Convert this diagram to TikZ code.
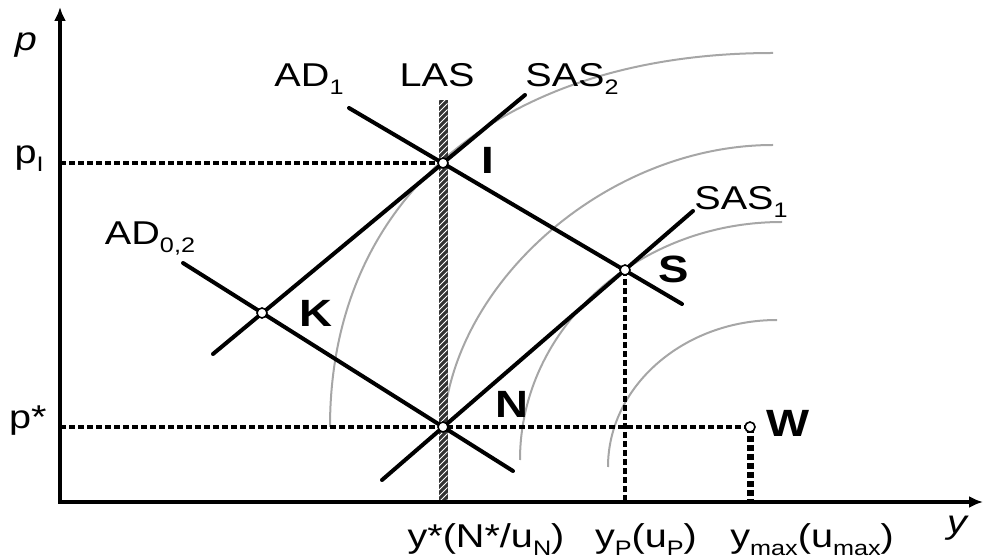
\documentclass[tikz,border=0pt]{standalone}
\usepackage{fontspec}
\setmainfont{Liberation Sans}[FakeStretch=1.2]
\usetikzlibrary{arrows.meta, calc, patterns}
\newcommand{\lowidx}[1]{\raisebox{-4pt}{\fontsize{10.5}{12}\selectfont #1}}

\begin{document}
\begin{tikzpicture}[x=0.5pt, y=0.5pt,
	curve/.style={line width=2pt, line cap=round},
	axis/.style={line width=2.2pt, {Latex[length=7pt,width=6pt]}-{Latex[length=7pt,width=6pt]}},
	guide/.style={line width=2.2pt, dash pattern=on 3pt off 1.5pt},
	iso/.style={line width=1pt, black!35},
	lbl/.style={inner sep=0pt, font=\fontsize{16.5}{19}\selectfont, anchor=base},
	pt/.style={inner sep=0pt, font=\fontsize{19}{22}\selectfont\bfseries, anchor=base}]
	\useasboundingbox (0,0) rectangle (985,557);

	% Achsen und Punkte
	\coordinate (O) at (60,55);
	\coordinate (ptop) at (60,550);
	\coordinate (yend) at (983,55);
	\coordinate (I) at (443,394);
	\coordinate (N) at (443,130);
	\coordinate (K) at (262,244);
	\coordinate (S) at (625,287);
	\coordinate (W) at (750,130);
	\coordinate (lasT) at (443,457);
	\coordinate (lasB) at (443,55);

	% Enden der Kurven
	\coordinate (ad1a) at (349,449);  \coordinate (ad1b) at (682,253);
	\coordinate (ad0a) at (183,294);  \coordinate (ad0b) at (513,86);
	\coordinate (sas2a) at (213,203); \coordinate (sas2b) at (525,462);
	\coordinate (sas1a) at (382,77);  \coordinate (sas1b) at (693,346);

	% Isolinien (grau)
	\draw[iso] (330,130) .. controls (330,360) and (503,504) .. (773,504);
	\draw[iso] (443,117) .. controls (443,267) and (603,412) .. (773,412);
	\draw[iso] (520,97) .. controls (520,228) and (637,335) .. (782,335);
	\draw[iso] (608,90) .. controls (608,171) and (684,237) .. (777,237);

	% LAS (schraffiert)
	\fill[black!80] ([xshift=-2.25pt]lasT) rectangle ([xshift=2.25pt]lasB);
	\fill[pattern=north east lines, pattern color=white] ([xshift=-2.25pt]lasT) rectangle ([xshift=2.25pt]lasB);

	% Hilfslinien
	\draw[guide] (O |- I) -- (I);
	\draw[guide] (O |- N) -- (W);
	\draw[guide] (S) -- (S |- O);
	\draw[guide, line width=3.5pt] (W) -- (W |- O);

	% AD und SAS
	\draw[curve] (ad1a) -- (ad1b);
	\draw[curve] (ad0a) -- (ad0b);
	\draw[curve] (sas2a) -- (sas2b);
	\draw[curve] (sas1a) -- (sas1b);

	\draw[axis] (ptop) |- (yend);

	\foreach \q in {I,N,K,S,W}
		\draw[line width=0.8pt, fill=white] (\q) circle (2.5pt);

	% Beschriftung
	\node[lbl, anchor=center] (lp) at (26,512) {\itshape p};
	\node[lbl, anchor=center] (ly) at (957,29) {\itshape y};
	\node[lbl, anchor=base east] (lpI) at (44,393) {p\lowidx{I}};
	\node[lbl, anchor=base east] (lps) at (47,128) {p*};
	\node[lbl] (lad1) at (309,470) {AD\lowidx{1}};
	\node[lbl] (llas) at (437,470) {LAS};
	\node[lbl] (lsas2) at (572,470) {SAS\lowidx{2}};
	\node[lbl] (lsas1) at (741,347) {SAS\lowidx{1}};
	\node[lbl] (lad0) at (150,312) {AD\lowidx{0,2}};
	\node[pt] (lI) at (488,383) {I};
	\node[pt] (lK) at (316,230) {K};
	\node[pt] (lS) at (674,274) {S};
	\node[pt] (lN) at (512,139) {N};
	\node[pt] (lW) at (788,120) {W};
	\node[lbl] (lyn) at (486,10) {y*(N*/u\lowidx{N})};
	\node[lbl] (lyp) at (646,10) {y\lowidx{P}(u\lowidx{P})};
	\node[lbl, anchor=base west] (lym) at (730,10) {y\lowidx{max}(u\lowidx{max})};
\end{tikzpicture}
\end{document}
